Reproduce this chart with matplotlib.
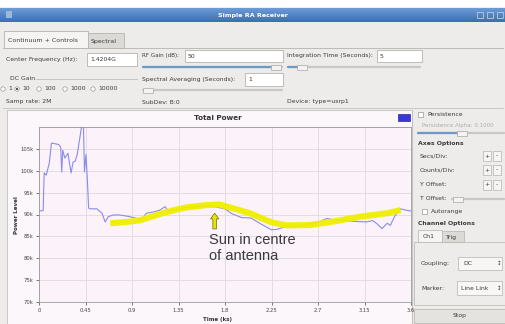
import numpy as np
import matplotlib
matplotlib.use("Agg")
import matplotlib.pyplot as plt
from matplotlib.patches import Rectangle, Circle, FancyArrow

# ---------------- DATA ----------------
# raw total power trace (time in ks, level in thousands)
power_t = [0.0, 0.04, 0.05, 0.07, 0.10, 0.12, 0.13, 0.19, 0.21, 0.22, 0.23, 0.25,
           0.28, 0.31, 0.33, 0.35, 0.37, 0.41, 0.43, 0.44, 0.455, 0.47, 0.48, 0.49,
           0.56, 0.61, 0.64, 0.67, 0.72, 0.78, 0.88, 0.945, 0.99, 1.04, 1.11, 1.17,
           1.22, 1.25, 1.35, 1.50, 1.65, 1.80, 1.865, 1.96, 2.05, 2.15, 2.25, 2.30,
           2.40, 2.55, 2.70, 2.785, 2.85, 2.95, 3.075, 3.17, 3.23, 3.27, 3.32, 3.37,
           3.40, 3.44, 3.495, 3.55, 3.60]
power_v = [90.8, 90.9, 99.5, 99.0, 101.8, 106.3, 106.3, 106.0, 105.4, 99.7, 104.7, 102.9,
           104.0, 99.5, 102.0, 102.2, 103.7, 109.8, 110.5, 99.7, 103.7, 97.0, 91.5, 91.3,
           91.3, 90.3, 88.3, 89.5, 89.9, 89.9, 89.5, 89.1, 88.8, 90.3, 90.6, 91.0,
           91.8, 90.8, 91.3, 91.8, 92.0, 91.3, 90.2, 89.3, 89.2, 87.8, 86.5, 86.6,
           87.3, 87.5, 88.2, 89.1, 88.8, 88.6, 88.4, 88.3, 88.6, 87.9, 86.8, 88.0,
           87.5, 89.5, 91.3, 91.0, 90.8]

# hand-drawn trend over the drift scan
trend_t = [0.69, 0.85, 0.98, 1.10, 1.24, 1.42, 1.60, 1.74, 1.85, 2.04, 2.25, 2.40,
           2.62, 2.85, 3.11, 3.37, 3.50]
trend_v = [88.0, 88.3, 88.7, 89.6, 90.6, 91.6, 92.1, 92.3, 91.6, 90.3, 88.2, 87.5,
           87.6, 88.4, 89.5, 90.3, 91.0]

x_ticks = [0, 0.45, 0.9, 1.35, 1.8, 2.25, 2.7, 3.15, 3.6]
x_labels = ["0", "0.45", "0.9", "1.35", "1.8", "2.25", "2.7", "3.15", "3.6"]
y_ticks = [70, 75, 80, 85, 90, 95, 100, 105]

# ---------------- STYLE ----------------
W, H = 506, 324
GREY = "#edecea"
TXT = "#3c3c3c"
EDGE = "#b5b3ae"
FS = 4.4
plt.rcParams["font.family"] = ["DejaVu Sans"]

fig = plt.figure(figsize=(W / 100, H / 100), dpi=100)
fig.patch.set_facecolor("white")

# pixel-space canvas for the window chrome
bg = fig.add_axes([0, 0, 1, 1])
bg.set_xlim(0, W)
bg.set_ylim(H, 0)
bg.axis("off")


def rect(x, y, w, h, fc, ec="none", lw=0.6, z=1):
    bg.add_patch(Rectangle((x, y), w, h, facecolor=fc, edgecolor=ec, linewidth=lw, zorder=z))


def label(x, y, s, size=FS, color=TXT, **kw):
    bg.text(x, y, s, fontsize=size, color=color, va="center", zorder=5, **kw)


def entry(x, y, w, h, s):
    rect(x, y, w, h, "white", EDGE, 0.6, 2)
    label(x + 3, y + h / 2, s)


def slider(x, y, w, pos, fill=True):
    bg.plot([x, x + w], [y, y], color="#c9c7c3", lw=1.6, solid_capstyle="round", zorder=2)
    if fill:
        bg.plot([x, pos], [y, y], color="#6e98c8", lw=1.6, solid_capstyle="round", zorder=3)
    rect(pos - 5, y - 2.5, 10, 5, "#f4f3f1", "#a9a7a2", 0.5, 4)


# window background + title bar
rect(0, 7, W, H - 7, GREY)
grad = np.linspace(0, 1, 20).reshape(-1, 1)
bg.imshow(grad, extent=[0, W, 22, 8], aspect="auto", cmap=matplotlib.colors.LinearSegmentedColormap.from_list(
    "tb", ["#6c9bd6", "#3c6fb4"]), zorder=2)
label(W / 2, 15, "Simple RA Receiver", size=4.6, color="white", ha="center", fontweight="bold")
rect(6, 11, 6, 7, "#9fb8d8", z=3)
for bx in (477, 487, 497):
    rect(bx, 12, 6, 6, "none", "#b9cce6", 0.6, 3)

# tabs
bg.plot([3, 503], [48, 48], color=EDGE, lw=0.6, zorder=2)
rect(4, 31, 84, 17, "#f5f4f2", EDGE, 0.6, 3)
label(8, 40, "Continuum + Controls", size=4.5)
rect(88, 33, 36, 15, "#dcdad6", EDGE, 0.6, 2)
label(91, 41, "Spectral", size=4.5)

# control widgets
label(6, 60, "Center Frequency (Hz):")
entry(87, 53, 50, 13, "1.4204G")
label(142, 56, "RF Gain (dB):", size=4.1)
entry(185, 50, 98, 12, "50")
slider(143, 67, 139, 276)
label(287, 56, "Integration Time (Seconds):")
entry(377, 50, 45, 12, "5")
slider(288, 67, 132, 302)

# DC gain group
label(10, 79, "DC Gain")
bg.plot([36, 137], [79, 79], color=EDGE, lw=0.5, zorder=2)
radios = [("1", 3, False), ("10", 17, True), ("100", 39, False), ("1000", 65, False), ("10000", 93, False)]
for txt, cx, on in radios:
    bg.add_patch(Circle((cx, 89), 2.2, facecolor="white", edgecolor="#9a9893", lw=0.5, zorder=3))
    if on:
        bg.add_patch(Circle((cx, 89), 1.1, facecolor="#444444", zorder=4))
    label(cx + 5, 89, txt)

label(142, 79, "Spectral Averaging (Seconds):")
entry(245, 73, 38, 13, "1")
slider(143, 90, 139, 148, fill=False)

label(6, 102, "Samp rate: 2M")
label(142, 102, "SubDev: B:0")
label(287, 102, "Device: type=usrp1")
bg.plot([3, 503], [108, 108], color="#c4c2bd", lw=0.6, zorder=2)

# plot canvas
rect(7, 110, 405, H - 110, "#fcf7fb", "#c4c2bd", 0.6, 1)
label(218, 118, "Total Power", size=5.2, color="#333333", ha="center", fontweight="bold")
rect(398, 114, 12, 7, "#3a3ad0", "#2a2aa0", 0.5, 3)
label(17, 215, "Power Level", size=4.0, color="#333333", ha="center", rotation=90, fontweight="bold")
label(218, 319, "Time (ks)", size=4.0, color="#333333", ha="center", fontweight="bold")

# right-hand control panel
bg.plot([412, 412], [110, H], color="#c4c2bd", lw=0.8, zorder=2)
rect(418, 112, 5, 5, "white", "#9a9893", 0.5, 3)
label(427, 115, "Persistence")
label(422, 125, "Persistence Alpha: 0.1000", color="#b0aeaa", size=4.0)
slider(418, 133, 86, 462)
label(418, 143, "Axes Options", fontweight="bold")
for yy, s in ((156, "Secs/Div:"), (170, "Counts/Div:"), (185, "Y Offset:")):
    label(420, yy, s)
    rect(483, yy - 5, 8, 10, "#f6f5f3", EDGE, 0.5, 3)
    rect(493, yy - 5, 8, 10, "#f6f5f3", EDGE, 0.5, 3)
    label(487, yy, "+", ha="center")
    label(497, yy, "-", ha="center")
label(420, 199, "T Offset:")
slider(452, 199, 52, 458, fill=False)
rect(422, 209, 5, 5, "white", "#9a9893", 0.5, 3)
label(431, 212, "Autorange")
label(418, 223, "Channel Options", fontweight="bold")
rect(414, 242, 91, 63, "none", EDGE, 0.5, 2)
rect(418, 230, 24, 12, "#f5f4f2", EDGE, 0.5, 3)
label(423, 236, "Ch1")
rect(442, 231, 22, 11, "#dcdad6", EDGE, 0.5, 2)
label(446, 237, "Trig")
label(421, 263, "Coupling:")
rect(458, 257, 44, 13, "#f8f7f5", EDGE, 0.5, 3)
label(463, 263.5, "DC")
label(497, 263.5, "\u2195", size=4.0)
label(421, 288, "Marker:")
rect(457, 281, 45, 14, "#f8f7f5", EDGE, 0.5, 3)
label(461, 288, "Line Link")
label(497, 288, "\u2195", size=4.0)
rect(414, 309, 91, 14, "#e4e3e0", EDGE, 0.5, 3)
label(460, 316, "Stop", ha="center")

# ---------------- PLOT ----------------
left, right, top, bottom = 39, 411, 127, 302
ax = fig.add_axes([left / W, 1 - bottom / H, (right - left) / W, (bottom - top) / H])
ax.set_facecolor("#fcf2fa")
ax.plot(power_t, power_v, color="#8c8ce6", lw=0.8, zorder=3)
ax.plot(trend_t, trend_v, color="#f0ee00", lw=4.4, alpha=0.95, solid_capstyle="butt", zorder=4)

ax.set_xlim(0, 3.6)
ax.set_ylim(70, 110)
ax.set_xticks(x_ticks)
ax.set_xticklabels(x_labels)
ax.set_yticks(y_ticks)
ax.set_yticklabels([f"{v}k" for v in y_ticks])
ax.tick_params(labelsize=3.8, colors="#444444", length=2, width=0.5, pad=2)
ax.grid(True, color="#dddadd", lw=0.6)
ax.axhline(110, color="#dddadd", lw=0.6)
for s in ax.spines.values():
    s.set_color("#9a9a9a")
    s.set_linewidth(0.6)

# annotation for the transit peak
ax.add_patch(FancyArrow(1.70, 86.7, 0, 3.6, width=0.035, head_width=0.08, head_length=1.3,
                        length_includes_head=True, facecolor="#e8e400", edgecolor="#6b6a10",
                        lw=0.5, zorder=5))
ax.text(1.65, 83.3, "Sun in centre", fontsize=10.5, family="Liberation Sans", color="#3a3a3a",
        va="baseline", zorder=6)
ax.text(1.65, 79.6, "of antenna", fontsize=10.5, family="Liberation Sans", color="#3a3a3a",
        va="baseline", zorder=6)

fig.savefig("out.png", dpi=100)
